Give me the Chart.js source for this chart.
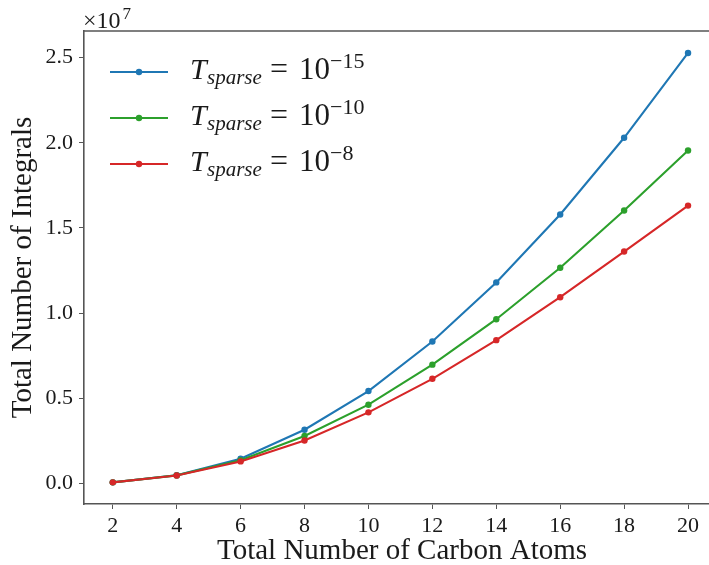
<!DOCTYPE html>
<html>
<head>
<meta charset="utf-8">
<script src="https://cdn.jsdelivr.net/npm/chart.js@4"></script>
<style>
  html, body { margin: 0; padding: 0; background: #fff; overflow: hidden; }
  #wrap { width: 709px; height: 565px; overflow: hidden; }
  canvas { display: block; }
</style>
</head>
<body>
<div id="wrap"><canvas id="c" width="720" height="565"></canvas></div>
<script>
// Number of carbon atoms in each molecule
const carbons = [2, 4, 6, 8, 10, 12, 14, 16, 18, 20];

// Total number of integrals kept for each sparsity threshold
const integrals1e15 = [60000, 480000, 1450000, 3150000, 5420000, 8330000, 11800000, 15790000, 20290000, 25270000];
const integrals1e10 = [60000, 470000, 1360000, 2780000, 4620000, 6970000, 9640000, 12660000, 16020000, 19540000];
const integrals1e8  = [60000, 460000, 1290000, 2520000, 4170000, 6140000, 8410000, 10930000, 13610000, 16310000];

// Threshold exponents shown in the legend
const exponents = ['\u221215', '\u221210', '\u22128'];
const colors = ['#1f77b4', '#2ca02c', '#d62728'];

const serif = '"Liberation Serif", "DejaVu Serif", serif';
const axisColor = '#555555';
const textColor = '#1a1a1a';

const seriesList = [integrals1e15, integrals1e10, integrals1e8];

// later thresholds are painted over earlier ones
const datasets = seriesList.map((vals, i) => ({
  label: 'T_sparse = 10^' + exponents[i],
  data: carbons.map((c, j) => ({ x: c, y: vals[j] })),
  order: seriesList.length - 1 - i,
  borderColor: colors[i],
  backgroundColor: colors[i],
  borderWidth: 2.1,
  pointRadius: 3.2,
  pointHoverRadius: 3.2,
  pointBorderWidth: 0,
  tension: 0
}));

// Draws the top spine, math-style legend, offset label and axis titles
const decorations = {
  id: 'decorations',
  afterDraw(chart) {
    const ctx = chart.ctx;
    const area = chart.chartArea;
    ctx.save();

    // top spine
    ctx.strokeStyle = axisColor;
    ctx.lineWidth = 1.6;
    ctx.beginPath();
    ctx.moveTo(area.left - 0.8, area.top);
    ctx.lineTo(area.right, area.top);
    ctx.stroke();

    // exponent offset above the y axis
    ctx.fillStyle = textColor;
    ctx.textBaseline = 'alphabetic';
    ctx.textAlign = 'left';
    ctx.font = '24px ' + serif;
    ctx.fillText('\u00d710', area.left - 1, 28);
    const w10 = ctx.measureText('\u00d710').width;
    ctx.font = '17px ' + serif;
    ctx.fillText('7', area.left + w10 + 1, 19);

    // axis titles
    ctx.font = '29px ' + serif;
    ctx.textAlign = 'center';
    ctx.fillText('Total Number of Carbon Atoms', 402, 559);
    ctx.save();
    ctx.translate(31, (area.top + area.bottom) / 2);
    ctx.rotate(-Math.PI / 2);
    ctx.fillText('Total Number of Integrals', 0, 0);
    ctx.restore();

    // legend
    const rows = [72, 118, 164];
    ctx.textAlign = 'left';
    rows.forEach((y, i) => {
      ctx.strokeStyle = colors[i];
      ctx.lineWidth = 2.1;
      ctx.beginPath();
      ctx.moveTo(110, y);
      ctx.lineTo(168, y);
      ctx.stroke();
      ctx.fillStyle = colors[i];
      ctx.beginPath();
      ctx.arc(139, y, 3.2, 0, Math.PI * 2);
      ctx.fill();

      const base = y + 7;
      ctx.fillStyle = textColor;
      ctx.font = 'italic 30px ' + serif;
      ctx.fillText('T', 190, base);
      ctx.font = 'italic 21px ' + serif;
      ctx.fillText('sparse', 207, base + 5);
      ctx.font = '32px ' + serif;
      ctx.fillText('=', 270, base);
      ctx.font = '31px ' + serif;
      ctx.fillText('10', 299, base);
      const w = ctx.measureText('10').width;
      ctx.font = '22px ' + serif;
      ctx.fillText(exponents[i], 299 + w, base - 11);
    });
    ctx.restore();
  }
};

new Chart(document.getElementById('c'), {
  type: 'line',
  data: { datasets },
  plugins: [decorations],
  options: {
    responsive: false,
    animation: false,
    events: [],
    layout: { padding: { top: 31, right: 1, left: 0, bottom: 0 } },
    plugins: { legend: { display: false }, tooltip: { enabled: false } },
    scales: {
      x: {
        type: 'linear',
        min: 1.1,
        max: 20.9,
        afterBuildTicks(scale) { scale.ticks = carbons.map(v => ({ value: v })); },
        afterFit(scale) { scale.height = 61; },
        grid: { drawOnChartArea: false, drawTicks: true, tickLength: 5, tickColor: axisColor, tickWidth: 1 },
        border: { color: axisColor, width: 1.6 },
        ticks: { color: textColor, font: { family: serif, size: 22 }, padding: 4, maxRotation: 0 }
      },
      y: {
        type: 'linear',
        min: -1210000,
        max: 26560000,
        afterBuildTicks(scale) { scale.ticks = [0, 5e6, 1e7, 1.5e7, 2e7, 2.5e7].map(v => ({ value: v })); },
        afterFit(scale) { scale.width = 84; },
        grid: { drawOnChartArea: false, drawTicks: true, tickLength: 5, tickColor: axisColor, tickWidth: 1 },
        border: { color: axisColor, width: 1.6 },
        ticks: {
          color: textColor, font: { family: serif, size: 22 }, padding: 6,
          callback: v => (v / 1e7).toFixed(1)
        }
      }
    }
  }
});
</script>
</body>
</html>
